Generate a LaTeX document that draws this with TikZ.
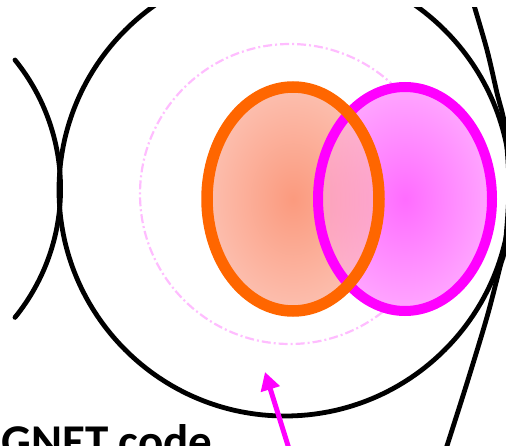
\documentclass[tikz,border=0pt]{standalone}
\usepackage{fontspec}
\setmainfont{Carlito}
\usetikzlibrary{arrows.meta}
\definecolor{Peel}{HTML}{FF6600}
\definecolor{Fuchsia}{HTML}{FF00FF}
\definecolor{Blush}{HTML}{FFBDFF}
\definecolor{Salmon}{HTML}{FB9A7E}
\definecolor{SalmonPale}{HTML}{FDE4E0}
\definecolor{Orchid}{HTML}{FF6CFF}
\definecolor{OrchidPale}{HTML}{FFE0FF}
\pgfdeclareradialshading{peelglow}{\pgfpoint{0bp}{0bp}}{color(0bp)=(Salmon); color(50bp)=(SalmonPale)}
\pgfdeclareradialshading{orchidglow}{\pgfpoint{0bp}{0bp}}{color(0bp)=(Orchid); color(50bp)=(OrchidPale)}

\begin{document}
\begin{tikzpicture}[x=1pt,y=-1pt]
    \tikzset{
      wall/.style={line width=4.8pt,draw=black,line cap=round},
      halo/.style={line width=2.2pt,draw=Blush,dash pattern=on 9pt off 3pt on 2pt off 3pt},
      rimpeel/.style={line width=11.5pt,draw=Peel},
      rimfuchsia/.style={line width=10pt,draw=Fuchsia},
      pointer/.style={-{Triangle[length=18pt,width=19pt]},line width=5pt,draw=Fuchsia}
    }
    \useasboundingbox (0,0) rectangle (506,446);
    \begin{scope}
      \clip (0,8) rectangle (506,446);
      % neighbouring cells
      \draw[wall] (15,60) arc[start angle=-39,end angle=39,radius=204.5];
      \draw[wall] plot[smooth] coordinates {(473,2) (487,50) (497,93) (505,127) (509,187)
        (505,247) (500,267) (487,317) (467,383) (445,452)};
      % the cell
      \draw[wall] (285,190) circle[radius=226];
      \draw[halo] (290,194) circle[radius=150];
      % the two regions
      \shade[shading=peelglow] (293,199) ellipse[x radius=86,y radius=112];
      \shade[shading=orchidglow] (405,199) ellipse[x radius=87,y radius=112];
      \begin{scope}
        \clip (405,199) ellipse[x radius=87,y radius=112];
        \shade[shading=peelglow,fill opacity=0.6] (293,199) ellipse[x radius=86,y radius=112];
      \end{scope}
      \draw[rimfuchsia] (405,199) ellipse[x radius=87,y radius=112];
      \draw[rimpeel] (293,199) ellipse[x radius=86,y radius=112];
    \end{scope}
    \node[anchor=base west,inner sep=0pt,font=\fontsize{47}{50}\selectfont\bfseries] (label) at (1,457) {GNET code};
    \coordinate (tail) at (290,452);
    \coordinate (tip) at (265,372);
    \draw[pointer] (tail) -- (tip);
\end{tikzpicture}
\end{document}
